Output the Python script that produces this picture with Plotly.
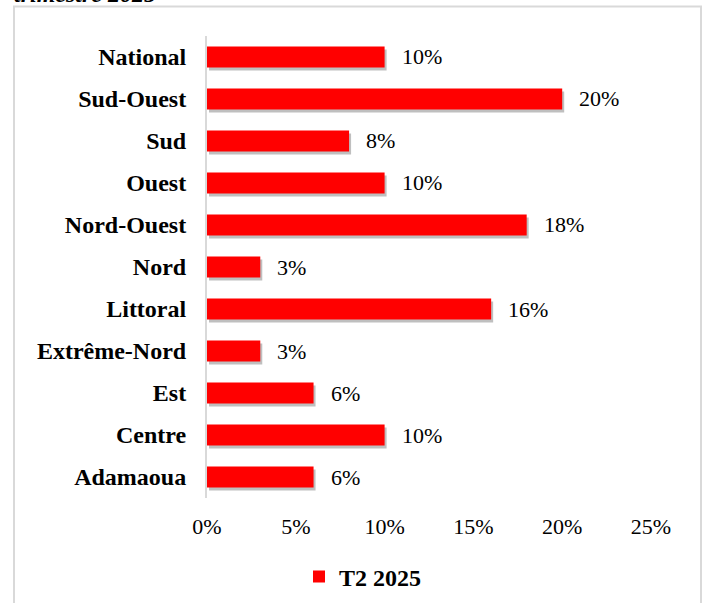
import plotly.graph_objects as go

# Regions, top to bottom, and their share for the second quarter of 2025
regions = ["National", "Sud-Ouest", "Sud", "Ouest", "Nord-Ouest", "Nord",
           "Littoral", "Extrême-Nord", "Est", "Centre", "Adamaoua"]
share_t2_2025 = [10, 20, 8, 10, 18, 3, 16, 3, 6, 10, 6]  # percent
x_ticks = [0, 5, 10, 15, 20, 25]
x_tick_labels = ["0%", "5%", "10%", "15%", "20%", "25%"]
series_name = "T2 2025"

W, H = 706, 603
SERIF = "Liberation Serif, Times New Roman, serif"

# plot area in pixels
left, right, top, bottom = 207, 651, 36, 498
xdom = [left / W, right / W]
ydom = [1 - bottom / H, 1 - top / H]
dx, dy = 2 / W, 3 / H  # soft drop shadow offset

values = [v / 100 for v in share_t2_2025]

fig = go.Figure()

# drop shadow drawn on its own hidden axes, nudged right/down
fig.add_trace(go.Bar(
    x=values, y=regions, orientation="h", width=0.5,
    marker=dict(color="rgba(0,0,0,0.25)", line=dict(width=0)),
    hoverinfo="skip", showlegend=False, xaxis="x", yaxis="y",
))

# main bars
fig.add_trace(go.Bar(
    x=values, y=regions, orientation="h", width=0.5, name=series_name,
    marker=dict(color="#ff0000", line=dict(width=0)),
    xaxis="x2", yaxis="y2",
))

# value labels to the right of each bar
for reg, v in zip(regions, share_t2_2025):
    fig.add_annotation(
        x=v / 100, y=reg, xref="x2", yref="y2", text=f"{v}%",
        showarrow=False, xanchor="left", yanchor="middle", xshift=15,
        font=dict(family=SERIF, size=22, color="#000000"),
    )

# heading line running off the top edge
fig.add_annotation(
    x=12 / W, y=1 - 9 / H, xref="paper", yref="paper",
    text="<b><i>trimestre 2025</i></b>", showarrow=False,
    xanchor="left", yanchor="bottom",
    font=dict(family=SERIF, size=24, color="#000000"),
)

# chart frame
fig.add_shape(
    type="rect", xref="paper", yref="paper",
    x0=14 / W, x1=701 / W, y0=-0.05, y1=1 - 6.5 / H,
    line=dict(color="#d9d9d9", width=2), fillcolor="rgba(0,0,0,0)",
    layer="below",
)

axis_range = [0, 0.25]
fig.update_layout(
    width=W, height=H,
    margin=dict(l=0, r=0, t=0, b=0, pad=0, autoexpand=False),
    paper_bgcolor="white", plot_bgcolor="rgba(0,0,0,0)",
    barmode="overlay",
    xaxis=dict(domain=[xdom[0] + dx, xdom[1] + dx], range=axis_range,
               visible=False, anchor="y", automargin=False),
    yaxis=dict(domain=[ydom[0] - dy, ydom[1] - dy], autorange="reversed",
               visible=False, anchor="x", automargin=False),
    xaxis2=dict(domain=xdom, range=axis_range, anchor="y2", automargin=False,
                tickvals=[t / 100 for t in x_ticks], ticktext=x_tick_labels,
                showgrid=False, zeroline=False, showline=False, ticks="",
                ticklabelstandoff=13,
                tickfont=dict(family=SERIF, size=22, color="#000000")),
    yaxis2=dict(domain=ydom, autorange="reversed", anchor="x2",
                automargin=False,
                showgrid=False, zeroline=False,
                showline=True, linecolor="#d9d9d9", linewidth=2, ticks="",
                ticklabelstandoff=14,
                tickfont=dict(family=SERIF, size=24, color="#000000",
                              weight="bold")),
    legend=dict(orientation="h", x=299 / W, y=1 - 577 / H,
                xanchor="left", yanchor="middle",
                font=dict(family=SERIF, size=24, color="#000000",
                          weight="bold"),
                bgcolor="rgba(0,0,0,0)"),
    showlegend=True,
)

fig.write_html("out.html")
